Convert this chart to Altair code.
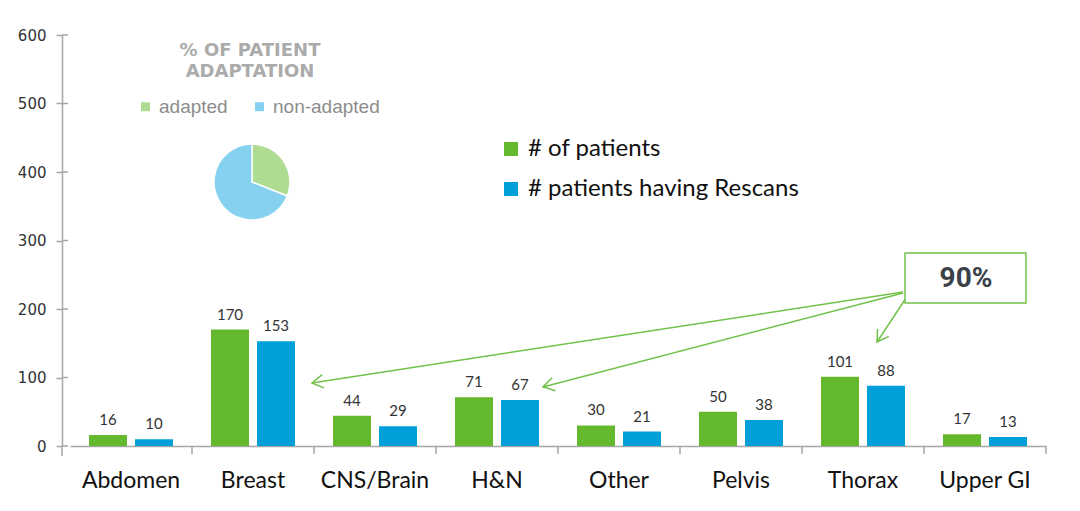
import altair as alt
import pandas as pd
import math

# ---------------- data ----------------
categories = ["Abdomen", "Breast", "CNS/Brain", "H&N", "Other", "Pelvis", "Thorax", "Upper GI"]
n_patients = [16, 170, 44, 71, 30, 50, 101, 17]
n_rescans = [10, 153, 29, 67, 21, 38, 88, 13]
series = ["# of patients", "# patients having Rescans"]
y_ticks = [0, 100, 200, 300, 400, 500, 600]
pie_labels = ["adapted", "non-adapted"]
pie_values = [31, 69]
pie_title = ["% OF PATIENT", "ADAPTATION"]
callout_text = "90%"

W, H = 976, 411
GREEN = "#63b82b"
BLUE = "#009fd9"
ARROW = "#72c24a"
GRAY = "#a6a6a6"

rows = []
for c, a, b in zip(categories, n_patients, n_rescans):
    rows.append({"cat": c, "series": series[0], "value": a})
    rows.append({"cat": c, "series": series[1], "value": b})
df = pd.DataFrame(rows)

x_enc = alt.X(
    "cat:N", sort=categories,
    scale=alt.Scale(paddingInner=0, paddingOuter=0),
    axis=alt.Axis(title=None, labelFont="Lato", labelFontSize=23, labelColor="#111111",
                  labelPadding=23, ticks=False, domainColor=GRAY, domainWidth=1.5, labelAngle=0),
)
xoff_enc = alt.XOffset("series:N", sort=series,
                       scale=alt.Scale(paddingInner=0.174, paddingOuter=0.413))
y_enc = alt.Y(
    "value:Q", scale=alt.Scale(domain=[0, 600]),
    axis=alt.Axis(title=None, values=y_ticks, offset=8, grid=False, domainColor=GRAY,
                  domainWidth=1.5, tickColor=GRAY, tickSize=6, tickWidth=1.5,
                  labelFont="DejaVu Sans", labelFontSize=15, labelColor="#333333",
                  labelPadding=10),
)

bars = alt.Chart(df).mark_bar().encode(
    x=x_enc, xOffset=xoff_enc, y=y_enc,
    color=alt.Color("series:N", sort=series,
                    scale=alt.Scale(domain=series, range=[GREEN, BLUE]),
                    legend=alt.Legend(orient="none", legendX=429, legendY=102, title=None,
                                      symbolType="square", symbolSize=196, symbolStrokeWidth=0,
                                      labelFont="Lato", labelFontSize=24, labelColor="#111111",
                                      labelOffset=5, rowPadding=16, labelLimit=400)),
)

labels = alt.Chart(df).mark_text(baseline="bottom", dy=-7, font="Lato", fontSize=15,
                                  color="#333333").encode(
    x=alt.X("cat:N", sort=categories), xOffset=alt.XOffset("series:N", sort=series),
    y="value:Q", text="value:Q",
)

cat_ticks = alt.Chart(pd.DataFrame({"cat": categories})).mark_rule(
    color=GRAY, strokeWidth=1.5).encode(
    x=alt.X("cat:N", sort=categories, bandPosition=1),
    y=alt.value(H), y2=alt.value(H + 8),
)

inner_ticks = alt.Chart(pd.DataFrame({"v": y_ticks})).mark_rule(
    color=GRAY, strokeWidth=1.5).encode(
    y=alt.Y("v:Q"), x=alt.value(-8), x2=alt.value(-2),
)

one = alt.Data(values=[{"a": 1}])
y_ext = alt.Chart(one).mark_rule(color=GRAY, strokeWidth=1.5).encode(
    x=alt.value(-8), y=alt.value(H), y2=alt.value(H + 10))

main = alt.layer(bars, labels, cat_ticks, inner_ticks, y_ext)

# ---------------- pie inset ----------------
pie_df = pd.DataFrame({"type": pie_labels, "pct": pie_values, "ord": [0, 1]})
pie = alt.Chart(pie_df).mark_arc(outerRadius=38, stroke="white", strokeWidth=1.5).encode(
    theta=alt.Theta("pct:Q", stack=True),
    order=alt.Order("ord:Q"),
    color=alt.Color("type:N", sort=pie_labels,
                    scale=alt.Scale(domain=pie_labels, range=["#aedc93", "#86d0f0"]),
                    legend=alt.Legend(orient="none", legendX=66, legendY=62, title=None,
                                      direction="horizontal", symbolType="square",
                                      symbolSize=81, symbolStrokeWidth=0,
                                      labelFont="Liberation Sans", labelFontSize=19,
                                      labelColor="#8c8c8c", labelOffset=4, columnPadding=22)),
    x=alt.value(182), y=alt.value(147),
)

pie_head = alt.Chart(one).mark_text(
    text=pie_title, font="DejaVu Sans", fontWeight="bold", fontSize=18,
    color="#ababab", lineHeight=21, align="center", baseline="middle").encode(
    x=alt.value(180), y=alt.value(16))

# ---------------- callout ----------------
box = alt.Chart(one).mark_rect(fill="white", stroke=ARROW, strokeWidth=1.5).encode(
    x=alt.value(835), x2=alt.value(956), y=alt.value(218), y2=alt.value(268))
box_text = alt.Chart(one).mark_text(font="Roboto", fontWeight="bold", fontSize=28,
                                    color="#3b4148", align="center", baseline="middle").encode(
    x=alt.value(896), y=alt.value(244), text=alt.value(callout_text))

arrows = pd.DataFrame({
    "x1": [833, 833, 840],
    "y1": [257, 258, 257],
    "x2": [242, 473, 807],
    "y2": [348, 352, 307],
})
arrows["ang"] = [math.degrees(math.atan2(r.y2 - r.y1, r.x2 - r.x1)) % 360 for r in arrows.itertuples()]

lines = alt.Chart(arrows).mark_rule(color=ARROW, strokeWidth=1.5).encode(
    x=alt.X("x1:Q", scale=None, axis=None), y=alt.Y("y1:Q", scale=None, axis=None),
    x2="x2:Q", y2="y2:Q")
heads = alt.Chart(arrows).mark_point(
    shape="M -1 -0.6 L 0 0 L -1 0.6", size=500, filled=False, color=ARROW,
    strokeWidth=1.5, opacity=1).encode(
    x=alt.X("x2:Q", scale=None, axis=None), y=alt.Y("y2:Q", scale=None, axis=None),
    angle=alt.Angle("ang:Q", scale=None))

chart = alt.layer(main, pie, pie_head, lines, heads, box, box_text).resolve_scale(
    x="independent", y="independent", color="independent"
).properties(
    width=W, height=H,
    padding={"left": 62, "top": 27, "right": 26, "bottom": 57},
    autosize=alt.AutoSizeParams(type="none"),
).configure_view(stroke=None)

chart.save("out.html", embed_options={"renderer": "svg", "actions": False})
